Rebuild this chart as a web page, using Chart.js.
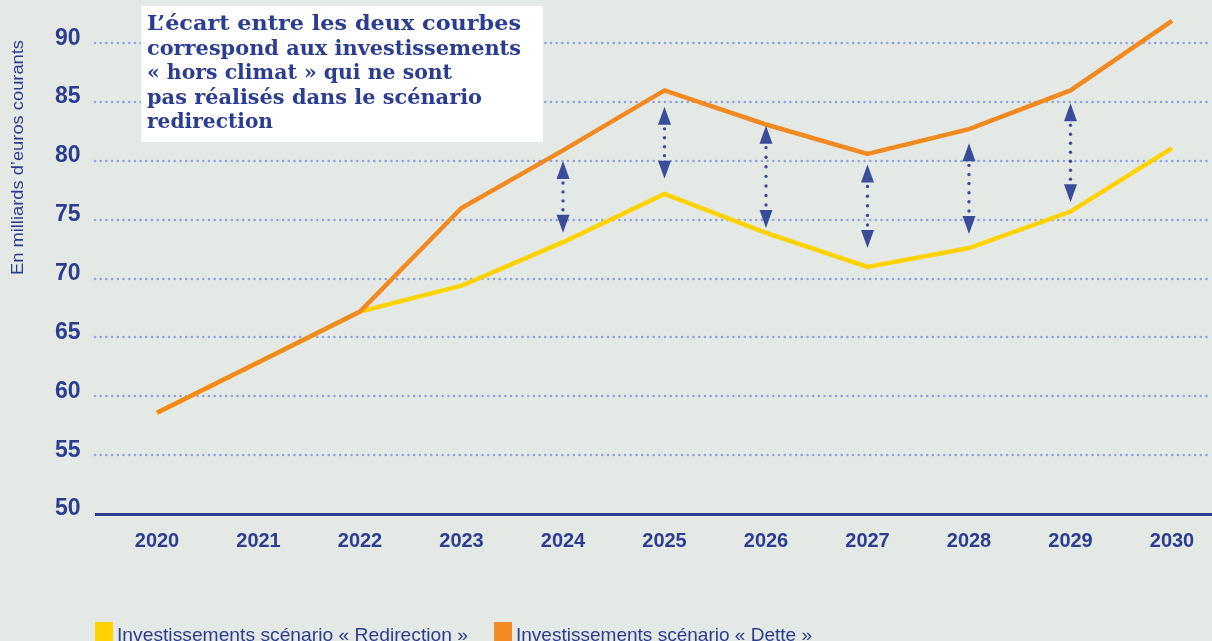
<!DOCTYPE html>
<html>
<head>
<meta charset="utf-8">
<script src="https://cdn.jsdelivr.net/npm/chart.js@4.4.1/dist/chart.umd.min.js"></script>
<style>
  html, body { margin: 0; padding: 0; background: #e4e9e5; }
  #wrap { width: 1212px; height: 641px; }
</style>
</head>
<body>
<div id="wrap"><canvas id="chart"></canvas></div>
<script>
// ***** Data *****
const years = ['2020', '2021', '2022', '2023', '2024', '2025', '2026', '2027', '2028', '2029', '2030'];
const redirection = [58.6, 62.9, 67.2, 69.4, 73.1, 77.2, 73.9, 71.0, 72.6, 75.7, 81.1];
const dette = [58.6, 62.9, 67.2, 76.0, 80.9, 86.0, 83.1, 80.6, 82.7, 86.0, 91.9];
const yTicks = [50, 55, 60, 65, 70, 75, 80, 85, 90];

// arrows between the two curves (year, top value, bottom value)
const arrowYears = ['2024', '2025', '2026', '2027', '2028', '2029'];
const arrowTop = [80.0, 84.6, 83.0, 79.7, 81.5, 84.9];
const arrowBottom = [73.9, 78.5, 74.3, 72.6, 73.8, 76.5];

const seriesLabels = ['Investissements scénario « Redirection »', 'Investissements scénario « Dette »'];
const noteLines = [
  'L’écart entre les deux courbes',
  'correspond aux investissements',
  '« hors climat » qui ne sont',
  'pas réalisés dans le scénario',
  'redirection'
];
const noteWidths = [374, 374, 305, 335, 126];
const yTitle = 'En milliards d’euros courants';

// ***** Styles *****
const navy = '#2b3d8f';
const arrowColor = '#3a4d9a';
const gridColor = '#8fa2dc';
const bg = '#e4e9e5';
const yellow = '#ffd200';
const orange = '#f28a22';

// draw text squeezed to a given width
const fitText = (ctx, text, x, y, width) => {
  const w = ctx.measureText(text).width;
  ctx.save();
  ctx.translate(x, y);
  ctx.scale(width / w, 1);
  ctx.textAlign = 'left';
  ctx.fillText(text, 0, 0);
  ctx.restore();
};

const decor = {
  id: 'decor',
  beforeDraw(chart) {
    const { ctx, scales: { y } } = chart;
    ctx.save();
    ctx.fillStyle = bg;
    ctx.fillRect(0, 0, chart.width, chart.height);

    // dotted grid lines
    ctx.fillStyle = gridColor;
    yTicks.slice(1).forEach((v) => {
      const py = Math.round(y.getPixelForValue(v));
      for (let x = 95; x < chart.width; x += 5.7) {
        ctx.beginPath();
        ctx.arc(x, py, 1.3, 0, Math.PI * 2);
        ctx.fill();
      }
    });

    // base axis line
    const py0 = y.getPixelForValue(50);
    ctx.strokeStyle = navy;
    ctx.lineWidth = 3;
    ctx.beginPath();
    ctx.moveTo(95, py0 + 0.5);
    ctx.lineTo(chart.width, py0 + 0.5);
    ctx.stroke();

    // y title
    ctx.fillStyle = navy;
    ctx.font = '16px "Liberation Sans", Arial, sans-serif';
    ctx.textBaseline = 'alphabetic';
    ctx.save();
    ctx.translate(23, 275);
    ctx.rotate(-Math.PI / 2);
    fitText(ctx, yTitle, 0, 0, 235);
    ctx.restore();

    // note box
    ctx.fillStyle = '#ffffff';
    ctx.fillRect(141, 6, 402, 136);
    ctx.fillStyle = navy;
    ctx.font = 'bold 21px "DejaVu Serif", serif';
    noteLines.forEach((line, i) => {
      fitText(ctx, line, 147, 30 + i * 24.5, noteWidths[i]);
    });
    ctx.restore();
  },
  afterDatasetsDraw(chart) {
    const { ctx, scales: { x, y } } = chart;
    ctx.save();
    ctx.fillStyle = arrowColor;
    arrowYears.forEach((yr, i) => {
      const px = x.getPixelForValue(years.indexOf(yr));
      const top = y.getPixelForValue(arrowTop[i]);
      const bot = y.getPixelForValue(arrowBottom[i]);
      const hh = 18;
      const hw = 6.5;
      // heads
      ctx.beginPath();
      ctx.moveTo(px, top);
      ctx.lineTo(px + hw, top + hh);
      ctx.lineTo(px - hw, top + hh);
      ctx.closePath();
      ctx.fill();
      ctx.beginPath();
      ctx.moveTo(px, bot);
      ctx.lineTo(px + hw, bot - hh);
      ctx.lineTo(px - hw, bot - hh);
      ctx.closePath();
      ctx.fill();
      // dots
      const a = top + hh + 4;
      const b = bot - hh - 5;
      const n = Math.max(1, Math.round((b - a) / 9));
      for (let k = 0; k <= n; k++) {
        ctx.beginPath();
        ctx.arc(px, a + (b - a) * k / n, 1.7, 0, Math.PI * 2);
        ctx.fill();
      }
    });
    ctx.restore();
  },
  afterDraw(chart) {
    const { ctx } = chart;
    ctx.save();
    ctx.font = '19px "Liberation Sans Narrow", "Liberation Sans", Arial, sans-serif';
    ctx.textBaseline = 'alphabetic';
    const items = [
      { color: yellow, label: seriesLabels[0], bx: 95, tx: 117, w: 351 },
      { color: orange, label: seriesLabels[1], bx: 494, tx: 516, w: 296 }
    ];
    items.forEach((it) => {
      ctx.fillStyle = it.color;
      ctx.fillRect(it.bx, 622, 18, 20);
      ctx.fillStyle = navy;
      fitText(ctx, it.label, it.tx, 641, it.w);
    });
    ctx.restore();
  }
};

// ***** Chart *****
const configChart = {
  type: 'line',
  data: {
    labels: years,
    datasets: [
      {
        label: seriesLabels[0],
        data: redirection,
        borderColor: yellow,
        backgroundColor: yellow,
        borderWidth: 4.5,
        pointRadius: 0,
        tension: 0,
        order: 1
      },
      {
        label: seriesLabels[1],
        data: dette,
        borderColor: orange,
        backgroundColor: orange,
        borderWidth: 4.5,
        pointRadius: 0,
        tension: 0,
        order: 0
      }
    ]
  },
  options: {
    responsive: false,
    animation: false,
    devicePixelRatio: 1,
    layout: { padding: { left: 55, right: 40, top: 8, bottom: 0 } },
    plugins: { legend: { display: false }, tooltip: { enabled: false } },
    scales: {
      x: {
        offset: false,
        grid: { display: false, drawTicks: false },
        border: { display: false },
        ticks: {
          color: navy,
          font: { family: '"Liberation Sans", Arial, sans-serif', weight: 'bold', size: 20 },
          padding: 15,
          maxRotation: 0,
          autoSkip: false
        },
        afterFit: (scale) => {
          scale.height = 127;
          scale.paddingLeft = 0;
          scale.paddingRight = 0;
        }
      },
      y: {
        min: 50,
        max: 93,
        grid: { display: false, drawTicks: false },
        border: { display: false },
        afterBuildTicks: (scale) => { scale.ticks = yTicks.map((v) => ({ value: v })); },
        ticks: {
          color: navy,
          font: { family: '"Liberation Sans", Arial, sans-serif', weight: 'bold', size: 23 },
          padding: 0,
          crossAlign: 'far',
          labelOffset: -5,
          autoSkip: false
        },
        afterFit: (scale) => {
          scale.width = 102;
          scale.paddingTop = 0;
          scale.paddingBottom = 0;
        }
      }
    }
  },
  plugins: [decor]
};

const canvas = document.getElementById('chart');
canvas.width = 1212;
canvas.height = 641;
const salesChart = new Chart(canvas, configChart);
</script>
</body>
</html>
